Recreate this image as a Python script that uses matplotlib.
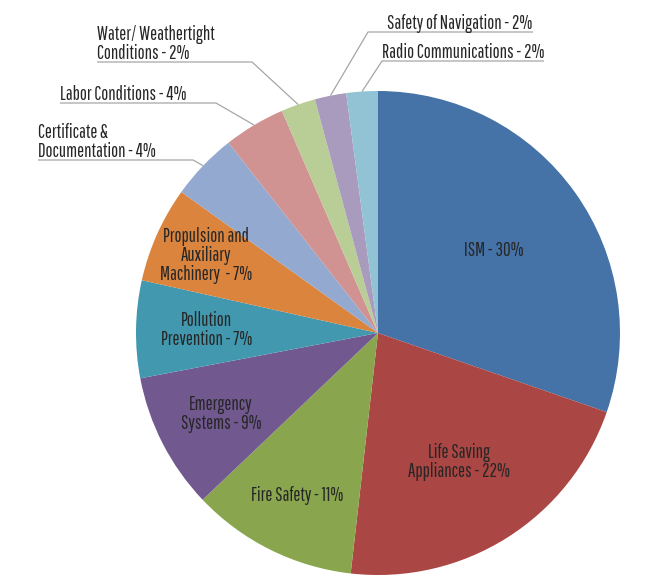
import numpy as np
import matplotlib.pyplot as plt

# slice values (share of deficiencies), clockwise from top
categories = ["ISM", "Life Saving Appliances", "Fire Safety", "Emergency Systems",
              "Pollution Prevention", "Propulsion and Auxiliary Machinery",
              "Certificate & Documentation", "Labor Conditions",
              "Water/ Weathertight Conditions", "Safety of Navigation",
              "Radio Communications"]
values = [30.3, 21.5, 11.1, 9.1, 6.5, 6.4, 4.5, 4.1, 2.3, 2.1, 2.1]
labels = ["ISM - 30%", "Life Saving\nAppliances - 22%", "Fire Safety - 11%",
          "Emergency\nSystems - 9%", "Pollution\nPrevention - 7%",
          "Propulsion and\nAuxiliary\nMachinery  - 7%",
          "Certificate &\nDocumentation - 4%", "Labor Conditions - 4%",
          "Water/ Weathertight\nConditions - 2%", "Safety of Navigation - 2%",
          "Radio Communications - 2%"]
colors = ["#4572A7", "#AA4643", "#89A54E", "#71588F", "#4198AF", "#DB843D",
          "#93A9CF", "#D19392", "#B9CD96", "#A99BBD", "#92C3D4"]

plt.rcParams['font.family'] = ['Pathway Gothic One', 'DejaVu Sans']

W, H = 668, 583
fig = plt.figure(figsize=(W / 100, H / 100), dpi=100)
ax = fig.add_axes([0, 0, 1, 1])

cx, cy, R = 378, H - 333, 242
wedges, _ = ax.pie(values, colors=colors, startangle=90, counterclock=False,
                   center=(cx, cy), radius=R, frame=True,
                   wedgeprops=dict(linewidth=0))
ax.set_xlim(0, W)
ax.set_ylim(0, H)
ax.set_aspect('equal')
ax.axis('off')

txt = "#262626"
fs = 13.5
ls = 1.0
# inside labels: radial fraction per slice
inside = [0.59, 0.63, 0.75, 0.73, 0.71, 0.78]
for i, f in enumerate(inside):
    w = wedges[i]
    a = np.deg2rad((w.theta1 + w.theta2) / 2)
    ax.text(cx + f * R * np.cos(a), cy + f * R * np.sin(a), labels[i],
            ha='center', va='center', fontsize=fs, color=txt, linespacing=ls)

# outside labels: (text x, elbow x, elbow y, underline end x)
outside = {
    6: (38, 193, 160, 38),
    7: (60, 216, 103, 60),
    8: (97, 252, 62, 97),
    9: (387, 368, 32, 533),
    10: (382, 382, 61, 544),
}
for i, (tx, ex, ey, ux) in outside.items():
    w = wedges[i]
    a = np.deg2rad((w.theta1 + w.theta2) / 2)
    px, py = cx + R * np.cos(a), cy + R * np.sin(a)
    ey = H - ey
    ax.plot([px, ex, ux], [py, ey, ey], color="#a6a6a6", lw=0.9,
            solid_capstyle='butt')
    ax.text(tx, ey - 1, labels[i], ha='left', va='bottom', fontsize=fs,
            color=txt, linespacing=ls)

fig.savefig("out.png", dpi=100)
